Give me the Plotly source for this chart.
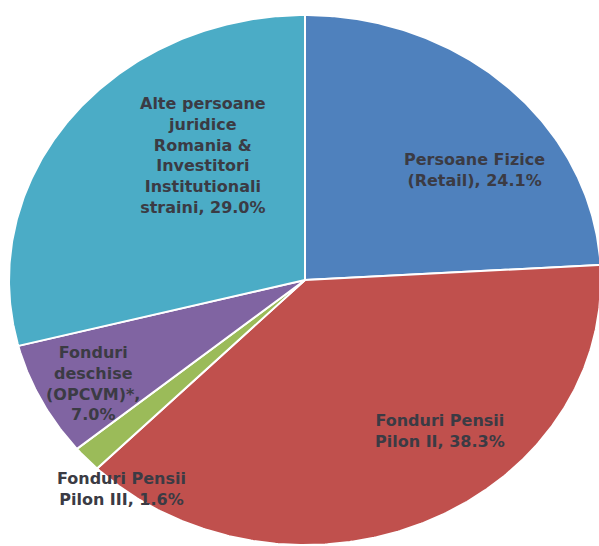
import numpy as np
import plotly.graph_objects as go

# Shareholder structure (percent of capital)
categories = [
    "Persoane Fizice<br>(Retail)",
    "Fonduri Pensii<br>Pilon II",
    "Fonduri Pensii<br>Pilon III",
    "Fonduri<br>deschise<br>(OPCVM)*",
    "Alte persoane<br>juridice<br>Romania &<br>Investitori<br>Institutionali<br>straini",
]
values = [24.1, 38.3, 1.6, 7.0, 29.0]
colors = ["#4F81BD", "#C0504D", "#9BBB59", "#8064A2", "#4BACC6"]

# label anchor positions in paper fractions (x, y)
label_pos = [(0.792, 0.689), (0.735, 0.211), (0.203, 0.105), (0.155, 0.297), (0.339, 0.716)]
# line break placement before the value for each label
value_sep = [", ", ", ", ", ", ",<br>", ", "]

fig = go.Figure()

total = float(sum(values))
bounds = np.concatenate([[0.0], np.cumsum(values)]) / total * 2 * np.pi
for name, c, a0, a1 in zip(categories, colors, bounds[:-1], bounds[1:]):
    t = np.linspace(a0, a1, max(int((a1 - a0) * 120), 4))
    xs = np.concatenate([[0.0], np.sin(t), [0.0]])
    ys = np.concatenate([[0.0], np.cos(t), [0.0]])
    fig.add_trace(go.Scatter(
        x=xs, y=ys, mode="lines", fill="toself", fillcolor=c,
        line=dict(color="white", width=2), hoverinfo="skip", showlegend=False,
        name=name.replace("<br>", " "),
    ))

for name, v, (px, py), sep in zip(categories, values, label_pos, value_sep):
    fig.add_annotation(
        x=px, y=py, xref="paper", yref="paper", showarrow=False,
        text=f"<b>{name}{sep}{v:.1f}%</b>",
        font=dict(family="DejaVu Sans", size=16, color="#3b3b44"),
        align="center", xanchor="center", yanchor="middle",
    )

fig.update_layout(
    width=599, height=546,
    margin=dict(l=0, r=0, t=0, b=0),
    paper_bgcolor="white", plot_bgcolor="white",
    xaxis=dict(range=[-1.0304, 0.9932], visible=False, fixedrange=True),
    yaxis=dict(range=[-1.0038, 1.0566], visible=False, fixedrange=True),
)

fig.write_html("out.html")
